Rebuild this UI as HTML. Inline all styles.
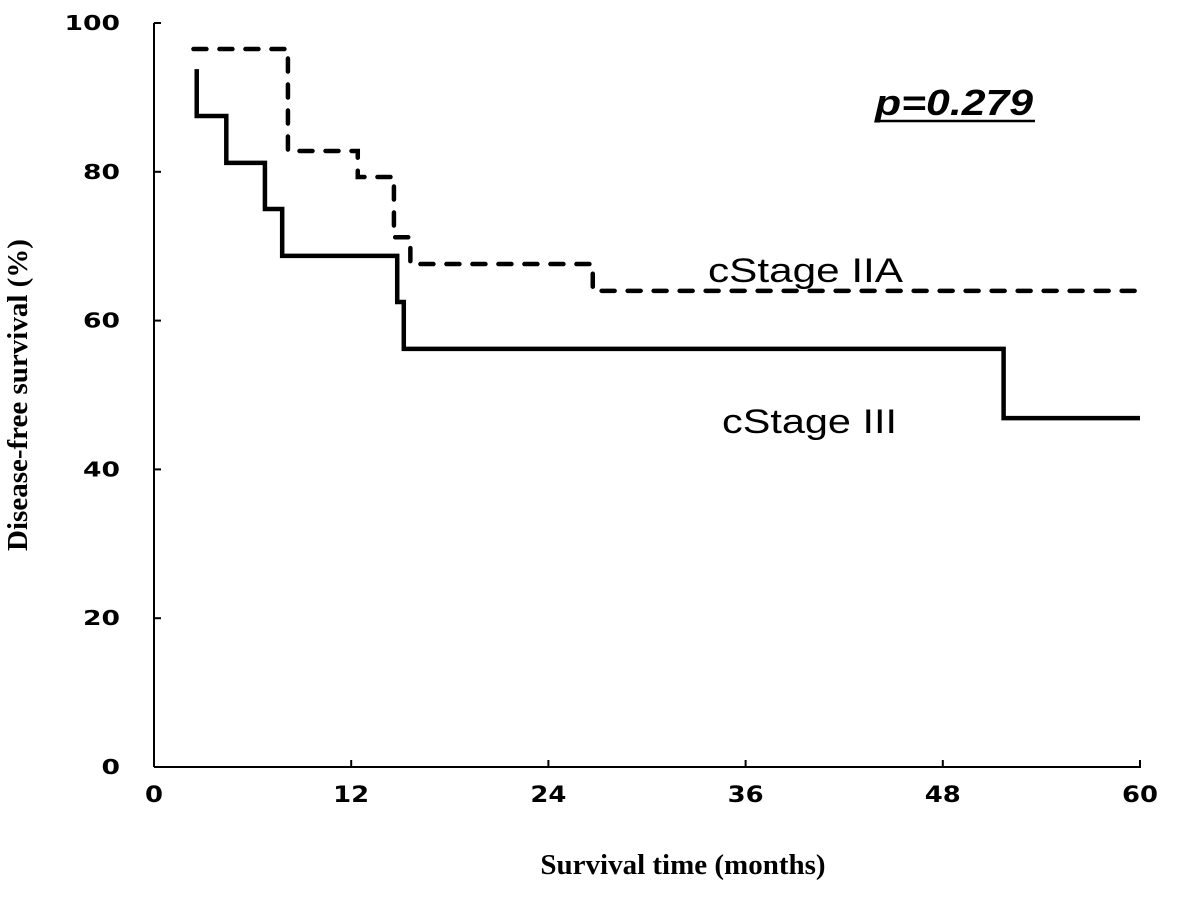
<!DOCTYPE html>
<html><head><meta charset="utf-8"><style>
html,body{margin:0;padding:0;background:#fff;}
svg{display:block;}
</style></head><body>
<svg id="chart" width="1204" height="897" viewBox="0 0 1204 897" xmlns="http://www.w3.org/2000/svg">
<g id="axes"></g>
<g id="series"></g>
<text x="27" y="395" transform="rotate(-90 27 395)" text-anchor="middle" font-family="Liberation Serif, serif" font-weight="bold" font-size="29">Disease-free survival (%)</text>
<text x="683" y="874" text-anchor="middle" font-family="Liberation Serif, serif" font-weight="bold" font-size="29">Survival time (months)</text>
<text x="875" y="115" font-family="Liberation Sans, sans-serif" font-weight="bold" font-style="italic" font-size="36" textLength="158" lengthAdjust="spacingAndGlyphs">p=0.279</text>
<line x1="875" y1="121" x2="1035" y2="121" stroke="#000" stroke-width="2.5"/>
<text x="708" y="282" font-family="Liberation Sans, sans-serif" font-size="34" textLength="195" lengthAdjust="spacingAndGlyphs">cStage IIA</text>
<text x="722" y="433" font-family="Liberation Sans, sans-serif" font-size="34" textLength="175" lengthAdjust="spacingAndGlyphs">cStage III</text>
</svg>
<script>
const xTicks = [0, 12, 24, 36, 48, 60];
const yTicks = [0, 20, 40, 60, 80, 100];
const stage3Times = [2.6, 2.6, 4.4, 6.75, 7.8, 14.8, 15.2, 51.7, 60];
const stage3Values = [93.8, 87.5, 81.2, 75.0, 68.7, 62.5, 56.2, 46.9, 46.9];
const stage2aTimes = [2.4, 8.15, 12.4, 14.6, 15.6, 26.7, 60];
const stage2aValues = [96.5, 82.8, 79.3, 71.2, 67.6, 64.0, 64.0];

const NS = 'http://www.w3.org/2000/svg';
const X0 = 154, X1 = 1140, Y0 = 767, Y1 = 23;
function xs(t){ return X0 + (t / 60) * (X1 - X0); }
function ys(v){ return Y0 - (v / 100) * (Y0 - Y1); }
function mk(tag, attrs, parent){
  const e = document.createElementNS(NS, tag);
  for (const k in attrs) e.setAttribute(k, attrs[k]);
  parent.appendChild(e);
  return e;
}
const axes = document.getElementById('axes');
const yAxis = mk('line', {x1: X0, y1: Y1, x2: X0, y2: Y0, stroke: '#000', 'stroke-width': 2}, axes);


const xAxis = mk('line', {x1: X0, y1: Y0, x2: X1 + 1, y2: Y0, stroke: '#000', 'stroke-width': 2}, axes);


yTicks.forEach(v => {
  const y = ys(v);
  const tk = mk('line', {x1: X0, y1: y, x2: X0 + 7, y2: y, stroke: '#000', 'stroke-width': 2}, axes);
  
  
  const s = String(v);
  const lb = mk('text', {x: 120, y: y + 7, 'text-anchor': 'end', 'font-family': 'DejaVu Sans, sans-serif', 'font-weight': 'bold', 'font-size': 20, textLength: s.length * 18.5, lengthAdjust: 'spacingAndGlyphs'}, axes);
  lb.textContent = s;
  
  
});
xTicks.forEach(t => {
  const x = xs(t);
  const tk = mk('line', {x1: x, y1: Y0, x2: x, y2: Y0 - 7, stroke: '#000', 'stroke-width': 2}, axes);
  
  
  const s = String(t);
  const lb = mk('text', {x: x, y: 802, 'text-anchor': 'middle', 'font-family': 'DejaVu Sans, sans-serif', 'font-weight': 'bold', 'font-size': 22, textLength: s.length * 18, lengthAdjust: 'spacingAndGlyphs'}, axes);
  lb.textContent = s;
  
  
});
function stepPath(times, vals){
  let d = 'M' + xs(times[0]) + ' ' + ys(vals[0]);
  for (let i = 1; i < times.length; i++){
    d += ' H' + xs(times[i]) + ' V' + ys(vals[i]);
  }
  return d;
}
const series = document.getElementById('series');
const s2 = mk('path', {d: stepPath(stage2aTimes, stage2aValues), fill: 'none', stroke: '#000', 'stroke-width': 4.5, 'stroke-dasharray': '13 13', 'stroke-linecap': 'round'}, series);


const s3 = mk('path', {d: stepPath(stage3Times, stage3Values), fill: 'none', stroke: '#000', 'stroke-width': 4.5}, series);


</script>
</body></html>
